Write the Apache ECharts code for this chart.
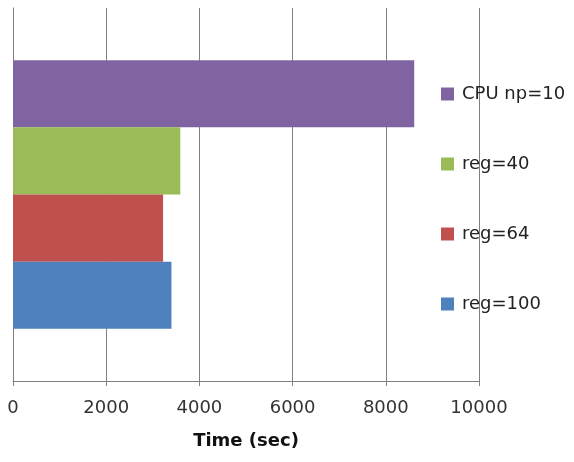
<!DOCTYPE html>
<html>
<head>
<meta charset="utf-8">
<script src="https://cdn.jsdelivr.net/npm/echarts@6/dist/echarts.min.js"></script>
<style>
  html, body { margin: 0; padding: 0; background: #fff; }
  #chart { width: 574px; height: 462px; }
</style>
</head>
<body>
<div id="chart"></div>
<script>
// series, top to bottom as drawn
var seriesNames = ['CPU np=10', 'reg=40', 'reg=64', 'reg=100'];
var seriesValues = [8610, 3590, 3220, 3400];
var seriesColors = ['#8064A2', '#9BBB59', '#C0504D', '#4F81BD'];
var categories = [''];
var xTicks = { min: 0, max: 10000, interval: 2000 };

var gray = '#808080';

var series = seriesNames.map(function (name, i) {
    return {
        name: name,
        type: 'bar',
        data: [seriesValues[i]],
        barGap: '0%',
        barCategoryGap: '28%',
        itemStyle: { color: seriesColors[i] }
    };
});

var chart = echarts.init(document.getElementById('chart'));
chart.setOption({
    animation: false,
    grid: { left: 13, right: 95, top: 8, bottom: 81, containLabel: false },
    legend: {
        orient: 'vertical',
        left: 441,
        top: 84,
        padding: 0,
        itemGap: 50,
        itemWidth: 13,
        itemHeight: 13,
        icon: 'rect',
        data: seriesNames,
        textStyle: {
            fontFamily: 'DejaVu Sans',
            fontSize: 18,
            lineHeight: 20,
            color: '#222',
            padding: [0, 0, 0, 3]
        }
    },
    xAxis: {
        type: 'value',
        min: xTicks.min,
        max: xTicks.max,
        interval: xTicks.interval,
        name: 'Time (sec)',
        nameLocation: 'middle',
        nameGap: 51,
        nameTextStyle: { fontFamily: 'DejaVu Sans', fontSize: 18, fontWeight: 'bold', color: '#111' },
        axisLine: { show: true, lineStyle: { color: gray, width: 1 } },
        axisTick: { show: true, length: 5, lineStyle: { color: gray } },
        axisLabel: {
            fontFamily: 'DejaVu Sans', fontSize: 18, color: '#333', margin: 18,
            formatter: function (v) { return String(v); }
        },
        splitLine: { show: true, lineStyle: { color: gray, width: 1 } }
    },
    yAxis: {
        type: 'category',
        data: categories,
        axisLine: { show: true, lineStyle: { color: gray } },
        axisTick: { show: false },
        axisLabel: { show: false }
    },
    series: series
});
</script>
</body>
</html>
